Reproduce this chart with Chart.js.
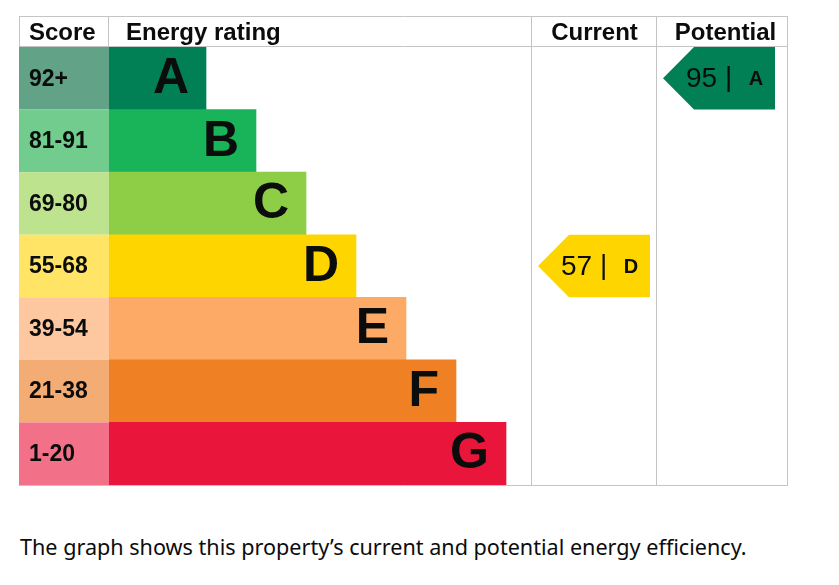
<!DOCTYPE html>
<html>
<head>
<meta charset="utf-8">
<script src="https://cdn.jsdelivr.net/npm/chart.js@4/dist/chart.umd.min.js"></script>
<style>
  body { margin: 0; background: #fff; }
  #wrap { position: relative; width: 839px; height: 585px; }
  #caption {
    position: absolute; left: 20px; top: 535px; margin: 0;
    font-family: "Noto Sans", sans-serif; font-size: 21.6px; line-height: 24px;
    color: #0b0c0c; white-space: nowrap;
  }
</style>
</head>
<body>
<div id="wrap">
  <canvas id="epc" width="839" height="510"></canvas>
  <p id="caption">The graph shows this property’s current and potential energy efficiency.</p>
</div>
<script>
// rating bands, top (best) to bottom
const bands = ['A', 'B', 'C', 'D', 'E', 'F', 'G'];
const scoreRanges = ['92+', '81-91', '69-80', '55-68', '39-54', '21-38', '1-20'];
const bandMinScore = [92, 81, 69, 55, 39, 21, 1];
const barLength = [1, 2, 3, 4, 5, 6, 7];
const currentScore = 57;
const potentialScore = 95;

const bandColors = ['#008054', '#19b459', '#8dce46', '#ffd500', '#fcaa65', '#ef8023', '#e9153b'];
const scoreColors = ['#62a388', '#72cc8e', '#bde38f', '#ffe466', '#fdc8a0', '#f3ac74', '#f27189'];

const FONT = '"Liberation Sans", Arial, sans-serif';
const INK = '#0b0c0c';
const GRID = '#c4c4c4';
const X_MIN = -0.94; // left edge of the rating column

// table frame (pixels)
const TABLE_LEFT = 19;
const TABLE_TOP = 16;
const COL_CURRENT = 531;
const COL_POTENTIAL = 656;
const TABLE_RIGHT = 787;

function bandOf(score) {
    let i = bandMinScore.findIndex(min => score >= min);
    return i < 0 ? bands.length - 1 : i;
}

function rowBox(chart, i) {
    const bar = chart.getDatasetMeta(0).data[i];
    return { top: bar.y - bar.height / 2, bottom: bar.y + bar.height / 2, mid: bar.y };
}

function drawArrow(ctx, colLeft, row, score, i) {
    const tip = colLeft + 7;
    const right = tip + 112;
    const shoulder = tip + 31;
    ctx.fillStyle = bandColors[i];
    ctx.beginPath();
    ctx.moveTo(tip, row.mid);
    ctx.lineTo(shoulder, row.top);
    ctx.lineTo(right, row.top);
    ctx.lineTo(right, row.bottom);
    ctx.lineTo(shoulder, row.bottom);
    ctx.closePath();
    ctx.fill();

    ctx.fillStyle = INK;
    ctx.textBaseline = 'middle';
    ctx.textAlign = 'left';
    ctx.font = '28px ' + FONT;
    ctx.fillText(String(score), tip + 23, row.mid + 1);
    ctx.fillText('|', tip + 62, row.mid);
    ctx.textAlign = 'center';
    ctx.font = 'bold 20px ' + FONT;
    ctx.fillText(bands[i], tip + 93, row.mid + 1);
}

const epcTable = {
    id: 'epcTable',
    beforeDatasetsDraw(chart) {
        const ctx = chart.ctx;
        const area = chart.chartArea;
        ctx.save();
        // score column cells
        bands.forEach((b, i) => {
            const row = rowBox(chart, i);
            ctx.fillStyle = scoreColors[i];
            ctx.fillRect(TABLE_LEFT, row.top, area.left - TABLE_LEFT, row.bottom - row.top);
        });
        // grid lines
        ctx.strokeStyle = GRID;
        ctx.lineWidth = 1;
        ctx.beginPath();
        ctx.moveTo(TABLE_LEFT, TABLE_TOP + 0.5);
        ctx.lineTo(TABLE_RIGHT + 1, TABLE_TOP + 0.5);
        ctx.moveTo(TABLE_LEFT, area.top - 0.5);
        ctx.lineTo(TABLE_RIGHT + 1, area.top - 0.5);
        ctx.moveTo(TABLE_LEFT, area.bottom + 0.5);
        ctx.lineTo(TABLE_RIGHT + 1, area.bottom + 0.5);
        ctx.moveTo(TABLE_LEFT + 0.5, TABLE_TOP);
        ctx.lineTo(TABLE_LEFT + 0.5, area.top);
        ctx.moveTo(area.left - 0.5, TABLE_TOP);
        ctx.lineTo(area.left - 0.5, area.top);
        [COL_CURRENT, COL_POTENTIAL, TABLE_RIGHT].forEach(x => {
            ctx.moveTo(x + 0.5, TABLE_TOP);
            ctx.lineTo(x + 0.5, area.bottom + 1);
        });
        ctx.stroke();
        ctx.restore();
    },
    afterDatasetsDraw(chart) {
        const ctx = chart.ctx;
        const area = chart.chartArea;
        const meta = chart.getDatasetMeta(0);
        ctx.save();
        ctx.fillStyle = INK;
        ctx.textBaseline = 'middle';

        // header
        const headY = (TABLE_TOP + area.top) / 2 + 2;
        ctx.font = 'bold 24px ' + FONT;
        ctx.textAlign = 'left';
        ctx.fillText('Score', TABLE_LEFT + 10, headY);
        ctx.fillText('Energy rating', area.left + 17, headY);
        ctx.textAlign = 'center';
        ctx.fillText('Current', (COL_CURRENT + COL_POTENTIAL) / 2 + 1, headY);
        ctx.fillText('Potential', (COL_POTENTIAL + TABLE_RIGHT) / 2 + 4, headY);

        // score ranges and band letters
        bands.forEach((b, i) => {
            const bar = meta.data[i];
            ctx.font = 'bold 23px ' + FONT;
            ctx.textAlign = 'left';
            ctx.fillText(scoreRanges[i], TABLE_LEFT + 10, bar.y + 1);
            ctx.font = 'bold 50px ' + FONT;
            ctx.textAlign = 'right';
            ctx.fillText(b, bar.x - 17, bar.y + 1);
        });

        // current / potential arrows
        const ci = bandOf(currentScore);
        const pi = bandOf(potentialScore);
        drawArrow(ctx, COL_CURRENT, rowBox(chart, ci), currentScore, ci);
        drawArrow(ctx, COL_POTENTIAL, rowBox(chart, pi), potentialScore, pi);
        ctx.restore();
    }
};

new Chart(document.getElementById('epc'), {
    type: 'bar',
    data: {
        labels: bands,
        datasets: [{
            data: barLength,
            base: X_MIN,
            backgroundColor: bandColors,
            borderWidth: 0,
            barPercentage: 1,
            categoryPercentage: 1
        }]
    },
    options: {
        indexAxis: 'y',
        responsive: false,
        animation: false,
        layout: { padding: { left: 109, right: 308, top: 47, bottom: 25 } },
        scales: {
            x: { type: 'linear', min: X_MIN, max: 7.5, display: false },
            y: { display: false }
        },
        plugins: {
            legend: { display: false },
            tooltip: { enabled: false }
        }
    },
    plugins: [epcTable]
});
</script>
</body>
</html>
